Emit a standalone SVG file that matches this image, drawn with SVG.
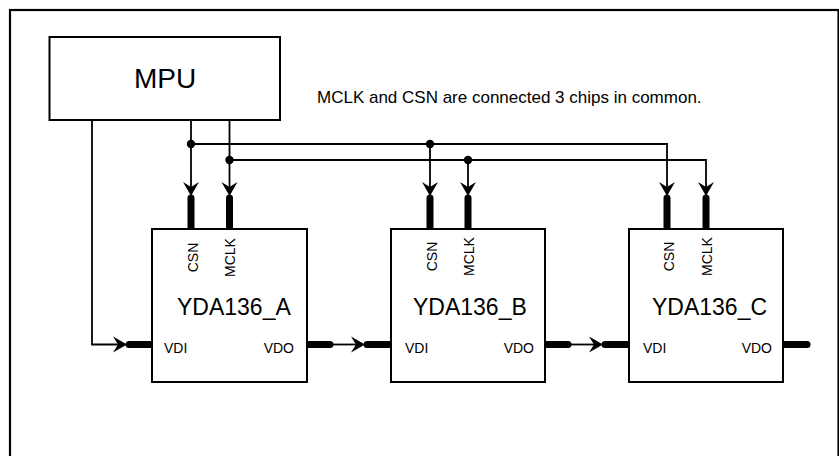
<svg xmlns="http://www.w3.org/2000/svg" xmlns:xlink="http://www.w3.org/1999/xlink" width="839" height="456" viewBox="0 0 839 456">
<style>
.frame{fill:none;stroke:#000;stroke-width:2.2}
.box{fill:#fff;stroke:#000;stroke-width:2}
.wire{fill:none;stroke:#000;stroke-width:1.8}
.pin{fill:none;stroke:#000;stroke-width:7;stroke-linecap:round}
.dot{fill:#000}
.head{fill:#000}
text{font-family:"Liberation Sans",Arial,sans-serif;fill:#000}
.big{font-size:23px}
.mpu{font-size:28px;text-anchor:middle}
.note{font-size:17px}
.lbl{font-size:14px}
.rot{font-size:14px;text-anchor:middle}
</style>
<defs>
<path id="ahDown" class="head" d="M0,0 L-8,-14 L0,-9 L8,-14 Z"/>
<path id="ahRight" class="head" d="M0,0 L-14,-8 L-9,0 L-14,8 Z"/>
</defs>
<rect class="frame" x="10" y="10" width="828.5" height="460"/>
<g id="connectors">
<path class="wire" d="M92,120 V344.5 H122"/>
<path class="wire" d="M191,120 V190"/>
<path class="wire" d="M229.5,120 V190"/>
<path class="wire" d="M191,144 H667 V190"/>
<path class="wire" d="M229.5,160 H706 V190"/>
<path class="wire" d="M430,144 V190"/>
<path class="wire" d="M468,160 V190"/>
<path class="wire" d="M330,344.5 H360"/>
<path class="wire" d="M568,344.5 H598"/>
<circle class="dot" cx="191" cy="144" r="4.2"/>
<circle class="dot" cx="430" cy="144" r="4.2"/>
<circle class="dot" cx="229.5" cy="160" r="4.2"/>
<circle class="dot" cx="468" cy="160" r="4.2"/>
<use xlink:href="#ahDown" x="191" y="196"/>
<use xlink:href="#ahDown" x="229.5" y="196"/>
<use xlink:href="#ahDown" x="430" y="196"/>
<use xlink:href="#ahDown" x="468" y="196"/>
<use xlink:href="#ahDown" x="667" y="196"/>
<use xlink:href="#ahDown" x="706" y="196"/>
<use xlink:href="#ahRight" x="127" y="344.5"/>
<use xlink:href="#ahRight" x="365" y="344.5"/>
<use xlink:href="#ahRight" x="603" y="344.5"/>
<path class="pin" d="M191,198 V235"/>
<path class="pin" d="M229.5,198 V235"/>
<path class="pin" d="M430,198 V235"/>
<path class="pin" d="M468,198 V235"/>
<path class="pin" d="M667,198 V235"/>
<path class="pin" d="M706,198 V235"/>
<path class="pin" d="M129,344.5 H158"/>
<path class="pin" d="M367,344.5 H397"/>
<path class="pin" d="M605,344.5 H635"/>
<path class="pin" d="M300,344.5 H330"/>
<path class="pin" d="M540,344.5 H568"/>
<path class="pin" d="M778,344.5 H807"/>
</g>
<g id="mpu">
<rect class="box" x="49.5" y="37" width="230.5" height="83"/>
<text class="mpu" x="165" y="88">MPU</text>
</g>
<g id="note">
<text class="note" x="317" y="103">MCLK and CSN are connected 3 chips in common.</text>
</g>
<g id="chipA">
<rect class="box" x="152" y="229" width="155" height="153"/>
<text class="rot" transform="translate(198,257.5) rotate(-90)">CSN</text>
<text class="rot" transform="translate(235,257.5) rotate(-90)">MCLK</text>
<text class="big" x="177" y="315">YDA136_A</text>
<text class="lbl" x="164" y="353">VDI</text>
<text class="lbl" x="294" y="353" text-anchor="end">VDO</text>
</g>
<g id="chipB">
<rect class="box" x="391" y="229" width="154" height="153"/>
<text class="rot" transform="translate(437,256.5) rotate(-90)">CSN</text>
<text class="rot" transform="translate(474,256.5) rotate(-90)">MCLK</text>
<text class="big" x="413" y="315">YDA136_B</text>
<text class="lbl" x="405" y="353">VDI</text>
<text class="lbl" x="534" y="353" text-anchor="end">VDO</text>
</g>
<g id="chipC">
<rect class="box" x="629" y="229" width="154" height="153"/>
<text class="rot" transform="translate(674,256.5) rotate(-90)">CSN</text>
<text class="rot" transform="translate(712,256.5) rotate(-90)">MCLK</text>
<text class="big" x="652" y="315">YDA136_C</text>
<text class="lbl" x="643" y="353">VDI</text>
<text class="lbl" x="772" y="353" text-anchor="end">VDO</text>
</g>
</svg>
